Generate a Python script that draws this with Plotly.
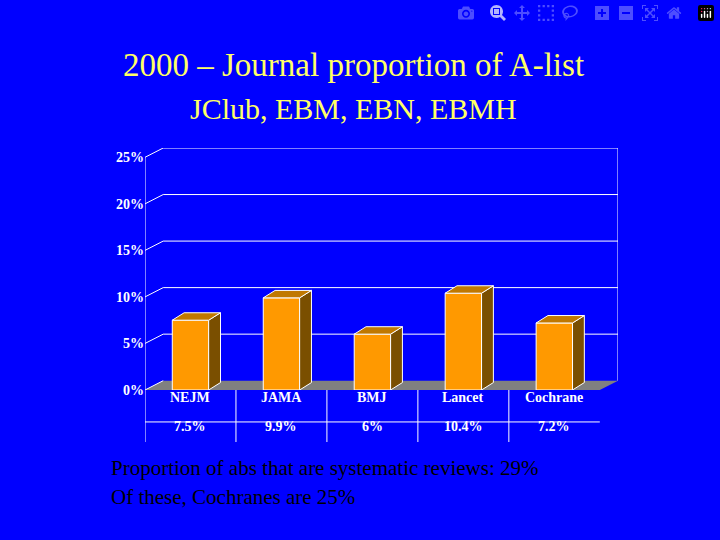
import plotly.graph_objects as go

journals = ["NEJM", "JAMA", "BMJ", "Lancet", "Cochrane"]
values = [7.5, 9.9, 6.0, 10.4, 7.2]
value_labels = ["7.5%", "9.9%", "6%", "10.4%", "7.2%"]
y_ticks = [0, 5, 10, 15, 20, 25]

DX, DY = 0.2, 1.0      # depth of back wall
BX, BY = 0.13, 0.8     # depth of bars
W = 0.2                # half bar width
xs = list(range(len(journals)))
serif = "Liberation Serif"

fig = go.Figure()
fig.add_trace(go.Bar(x=xs, y=values, width=2 * W, marker=dict(color="#ff9900", line=dict(color="white", width=1)),
                     showlegend=False, hoverinfo="skip"))

shapes = []
line = dict(color="white", width=1)
# floor
shapes.append(dict(type="path", path=f"M -0.5,0 L 4.5,0 L {4.5+DX},{DY} L {-0.5+DX},{DY} Z",
                   fillcolor="#808080", line=dict(width=0), layer="below"))
# back wall grid + left wall diagonals
for v in y_ticks:
    if v > 0:
        shapes.append(dict(type="line", x0=-0.5 + DX, x1=4.5 + DX, y0=v + DY, y1=v + DY, line=line, layer="below"))
    shapes.append(dict(type="line", x0=-0.5, x1=-0.5 + DX, y0=v, y1=v + DY, line=line, layer="below"))
shapes.append(dict(type="line", x0=4.5 + DX, x1=4.5 + DX, y0=DY, y1=25 + DY, line=line, layer="below"))
shapes.append(dict(type="line", x0=-0.5, x1=-0.5, y0=0, y1=25, line=line, layer="below"))
# bar sides and tops
for x, v in zip(xs, values):
    shapes.append(dict(type="path", path=f"M {x+W},0 L {x+W+BX},{BY} L {x+W+BX},{v+BY} L {x+W},{v} Z",
                       fillcolor="#7a4f00", line=line))
    shapes.append(dict(type="path", path=f"M {x-W},{v} L {x-W+BX},{v+BY} L {x+W+BX},{v+BY} L {x+W},{v} Z",
                       fillcolor="#c07800", line=line))
# table under the axis
shapes.append(dict(type="line", xref="x", yref="paper", x0=-0.5, x1=4.5, y0=-0.132, y1=-0.132, line=line))
for b in [-0.5, 0.5, 1.5, 2.5, 3.5]:
    shapes.append(dict(type="line", xref="x", yref="paper", x0=b, x1=b, y0=0, y1=-0.215, line=line))

annotations = []
for x, j, lab in zip(xs, journals, value_labels):
    annotations.append(dict(x=x, y=-0.07, xref="x", yref="paper", text=f"<b>{j}</b>", showarrow=False,
                            font=dict(size=14, color="white", family=serif)))
    annotations.append(dict(x=x, y=-0.19, xref="x", yref="paper", text=f"<b>{lab}</b>", showarrow=False,
                            font=dict(size=14, color="white", family=serif)))
annotations += [
    dict(x=0.44, y=1.426, xref="paper", yref="paper", text="2000 – Journal proportion of A-list", showarrow=False,
         font=dict(size=33, color="#ffff66", family=serif), xanchor="center"),
    dict(x=0.44, y=1.24, xref="paper", yref="paper", text="JClub, EBM, EBN, EBMH", showarrow=False,
         font=dict(size=30, color="#ffff66", family=serif), xanchor="center"),
    dict(x=-0.076, y=-0.38, xref="paper", yref="paper", text="Proportion of abs that are systematic reviews: 29%",
         showarrow=False, font=dict(size=21, color="black", family=serif), xanchor="left"),
    dict(x=-0.076, y=-0.5, xref="paper", yref="paper", text="Of these, Cochranes are 25%",
         showarrow=False, font=dict(size=21, color="black", family=serif), xanchor="left"),
]

fig.update_layout(
    width=720, height=540, paper_bgcolor="#0000ff", plot_bgcolor="#0000ff",
    margin=dict(l=145, r=102, t=148, b=150),
    xaxis=dict(range=[-0.5, 4.5 + DX], showgrid=False, zeroline=False, showticklabels=False),
    yaxis=dict(range=[0, 25 + DY], tickvals=y_ticks, ticktext=[f"<b>{v}%</b>" for v in y_ticks],
               showgrid=False, zeroline=False, ticks="", ticklen=0,
               tickfont=dict(size=14, color="white", family=serif)),
    shapes=shapes, annotations=annotations,
)
fig.write_html("out.html", post_script="document.body.style.margin='0';document.body.style.background='#0000ff';")
